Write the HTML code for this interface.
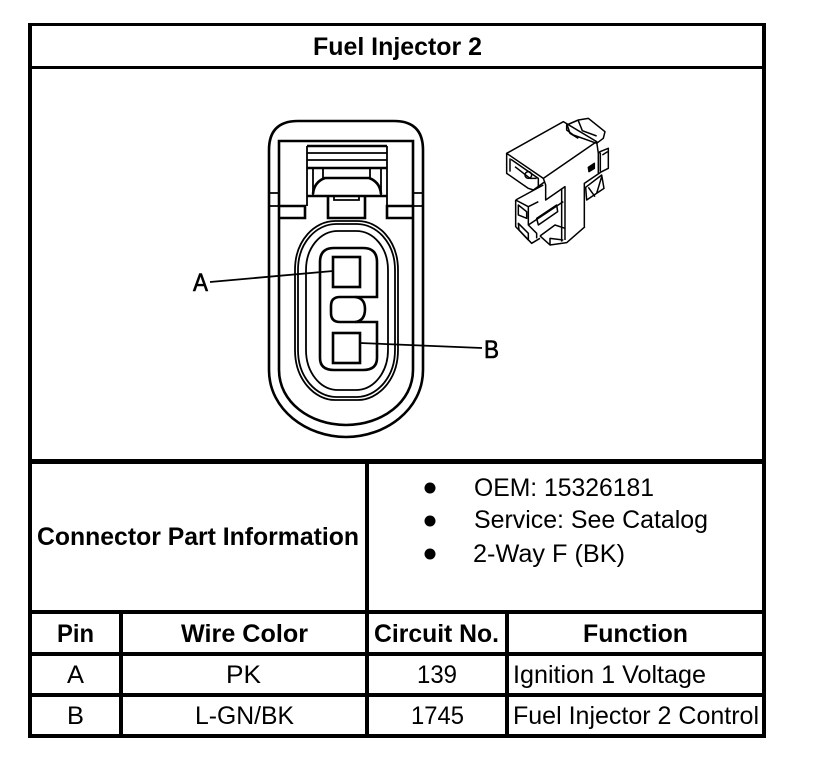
<!DOCTYPE html>
<html><head><meta charset="utf-8"><style>
html,body{margin:0;padding:0;background:#fff;width:816px;height:762px;overflow:hidden}
svg{display:block}
text{font-family:"Liberation Sans",Arial,sans-serif;font-size:25px;fill:#000}
.b{font-weight:bold}
.lb{stroke:#000;stroke-width:.6}
.l{fill:none;stroke:#000;stroke-width:1.8}
.t{fill:none;stroke:#000;stroke-width:2.6}
</style></head><body>
<svg width="816" height="762" viewBox="0 0 816 762" xmlns="http://www.w3.org/2000/svg">
<rect width="816" height="762" fill="#fff"/>
<g fill="#000" shape-rendering="crispEdges">
<rect x="28" y="23" width="738" height="3"/>
<rect x="28" y="66" width="738" height="3"/>
<rect x="28" y="459" width="738" height="5"/>
<rect x="28" y="610" width="738" height="4"/>
<rect x="28" y="652" width="738" height="4"/>
<rect x="28" y="693" width="738" height="4"/>
<rect x="28" y="734" width="738" height="4"/>
<rect x="28" y="23" width="4" height="715"/>
<rect x="762" y="23" width="4" height="715"/>
<rect x="365" y="460" width="4" height="278"/>
<rect x="119" y="610" width="4" height="128"/>
<rect x="505" y="610" width="4" height="128"/>
</g>
<g lengthAdjust="spacingAndGlyphs">
<text class="b" x="313" y="55" textLength="169" lengthAdjust="spacingAndGlyphs">Fuel Injector 2</text>
<text class="b" x="37" y="545" textLength="322" lengthAdjust="spacingAndGlyphs">Connector Part Information</text>
<text class="b" x="57" y="642" textLength="37" lengthAdjust="spacingAndGlyphs">Pin</text>
<text class="b" x="181" y="642" textLength="127" lengthAdjust="spacingAndGlyphs">Wire Color</text>
<text class="b" x="374" y="642" textLength="125" lengthAdjust="spacingAndGlyphs">Circuit No.</text>
<text class="b" x="583" y="642" textLength="105" lengthAdjust="spacingAndGlyphs">Function</text>
<text x="67" y="683" textLength="17" lengthAdjust="spacingAndGlyphs">A</text>
<text x="67" y="724" textLength="17" lengthAdjust="spacingAndGlyphs">B</text>
<text x="226" y="683" textLength="35" lengthAdjust="spacingAndGlyphs">PK</text>
<text x="195" y="724" textLength="99" lengthAdjust="spacingAndGlyphs">L-GN/BK</text>
<text x="417" y="683" textLength="40" lengthAdjust="spacingAndGlyphs">139</text>
<text x="411" y="724" textLength="53" lengthAdjust="spacingAndGlyphs">1745</text>
<text x="513" y="683" textLength="193" lengthAdjust="spacingAndGlyphs">Ignition 1 Voltage</text>
<text x="513" y="724" textLength="246" lengthAdjust="spacingAndGlyphs">Fuel Injector 2 Control</text>
<text x="474" y="496" textLength="180" lengthAdjust="spacingAndGlyphs">OEM: 15326181</text>
<text x="474" y="528" textLength="234" lengthAdjust="spacingAndGlyphs">Service: See Catalog</text>
<text x="473" y="562" textLength="152" lengthAdjust="spacingAndGlyphs">2-Way F (BK)</text>
<text class="lb" x="193" y="291" textLength="15" lengthAdjust="spacingAndGlyphs">A</text>
<text class="lb" x="484" y="358" textLength="15" lengthAdjust="spacingAndGlyphs">B</text>
</g>
<circle cx="430" cy="488" r="5.5"/><circle cx="430" cy="521" r="5.5"/><circle cx="430" cy="554" r="5.5"/>

<!-- connector face -->
<path class="t" d="M269 370V150Q269 121 298 121H394Q423 121 423 150V370C423 410 385 437 346 437C307 437 269 410 269 370Z"/>
<path class="t" d="M279 370V141H413V370C413 402 382 425 346 425C310 425 279 402 279 370Z"/>
<path class="l" d="M269 193H279M269 206H279M413 193H423M413 206H423"/>
<path class="t" d="M279 206H305V218H279M413 206H387V218H413"/>
<path class="t" d="M307 146H387M307 168H387"/>
<path class="l" d="M307 153H387M307 160H387M307 146V168M387 146V168"/>
<path class="t" d="M307 196H387"/>
<path class="l" d="M307 168V206M387 168V206M313 168V196M381 168V196M323 168V178M370 168V178"/>
<path class="t" d="M313 194Q314 182 325 178H369Q380 182 381 194"/>
<path class="t" d="M328 196V218H365V196"/>
<path class="l" d="M334 196V200H359V196"/>
<path class="l" d="M295 270C295 240 315 221 335 221H358C378 221 398 240 398 270V350C398 380 378 400 358 400H335C315 400 295 380 295 350Z"/>
<path class="l" d="M298 270C298 242 317 224 336 224H357C376 224 395 242 395 270V350C395 378 376 397 357 397H336C317 397 298 378 298 350Z"/>
<path class="l" d="M306 270C306 248 320 231 338 231H356C374 231 388 248 388 270V350C388 372 374 390 356 390H338C320 390 306 372 306 350Z"/>
<path class="t" d="M320 262Q320 248 334 248H363Q377 248 377 262V297H340Q331 297 331 306V313Q331 322 340 322H377V358Q377 370 363 370H334Q320 370 320 358Z"/>
<path class="t" d="M355 297Q365 298 365 309Q365 321 355 322"/>
<rect class="t" x="333" y="257" width="27" height="30"/>
<rect class="t" x="333" y="333" width="27" height="30"/>
<path class="l" d="M210 282L333 271"/>
<path class="l" d="M360 343L482 348"/>

<!-- isometric connector -->
<g transform="translate(495 110) scale(.3333)" fill="none" stroke="#000" stroke-width="4.5" stroke-linejoin="round">
<path d="M35 130L205 35L305 95L145 205L35 130Z"/>
<path d="M35 130V190L100 235L115 240L150 215"/>
<path d="M45 145V185M48 148L130 205V228M60 170L105 205L125 205"/>
<circle cx="100" cy="195" r="10"/>
<path d="M145 205L152 225V270L210 230V390"/>
<path d="M215 45L250 30L280 25L330 65L325 85L305 100L235 75L215 60Z"/>
<path d="M215 40L225 70L250 85M250 32L262 62L305 78"/>
<path d="M305 95L310 130L315 125L340 115V175L320 185L268 220V350"/>
<path d="M310 130V190M316 128V185M322 135L338 125"/>
<path d="M280 172L298 160V175L282 185Z" fill="#000"/>
<path d="M272 232L320 195L327 235L275 270ZM280 232L300 260M320 200L305 250"/>
<path d="M62 270L145 225M62 270V350L110 400L135 385M62 270L100 290L130 275M100 290V345L125 370V385"/>
<path d="M70 285L95 305V325L70 315ZM70 340L100 370V390L72 360Z"/>
<path d="M125 325L185 285L188 305L130 345ZM100 345L205 275"/>
<path d="M135 378L165 405L215 398L270 350M135 378L180 345L210 355M165 405V385L205 390M200 235V395"/>
</g>
</svg>
</body></html>
